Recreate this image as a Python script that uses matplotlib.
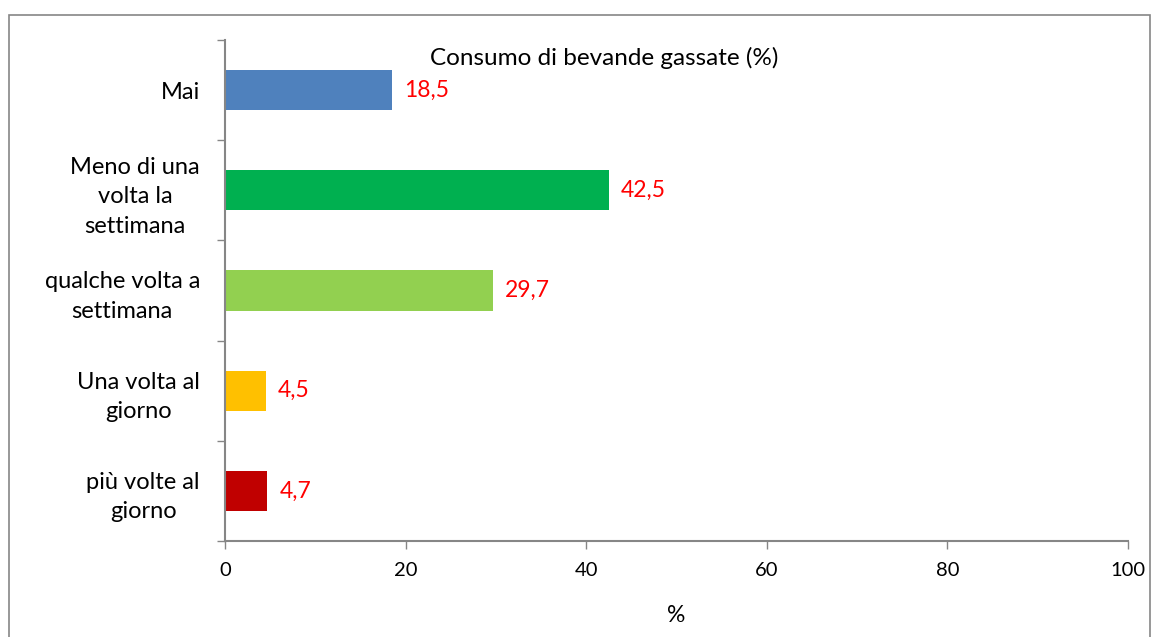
import matplotlib
matplotlib.use("Agg")
import matplotlib.pyplot as plt
from matplotlib.patches import Rectangle

categories = ["Mai", "Meno di una\nvolta la\nsettimana", "qualche volta a\nsettimana",
              "Una volta al\ngiorno", "più volte al\ngiorno"]
values = [18.5, 42.5, 29.7, 4.5, 4.7]
value_labels = ["18,5", "42,5", "29,7", "4,5", "4,7"]
colors = ["#4F81BD", "#00B050", "#92D050", "#FFC000", "#C00000"]
xticks = [0, 20, 40, 60, 80, 100]
title = "Consumo di bevande gassate (%)"
xlabel = "%"

plt.rcParams['font.family'] = ['Lato', 'DejaVu Sans']
gray = "#868686"

fig = plt.figure(figsize=(11.55, 6.37), dpi=100)
ax = fig.add_axes([225/1155, 1-541/637, (1128-225)/1155, (541-40)/637])

ypos = list(range(len(categories)))
ax.barh(ypos, values, height=0.4, color=colors)
ax.set_xlim(0, 100)
ax.set_ylim(len(categories) - 0.5, -0.5)

for y, v, lab in zip(ypos, values, value_labels):
    ax.annotate(lab, (v, y), xytext=(12, 0), textcoords="offset pixels",
                va="center", ha="left", color="red", fontsize=16.5)

ax.set_xticks(xticks)
ax.set_xticklabels([str(t) for t in xticks], fontsize=14.5)
ax.tick_params(axis="x", length=6, color=gray, width=1, pad=9)

ax.set_yticks([i - 0.5 for i in range(len(categories) + 1)])
ax.set_yticklabels([])
ax.tick_params(axis="y", which="major", length=6, color=gray, width=1)
ax.set_yticks(ypos, minor=True)
ax.set_yticklabels(categories, minor=True, fontsize=17, linespacing=1.5)
for lbl in ax.get_yticklabels(minor=True):
    lbl.set_multialignment("center")
ax.tick_params(axis="y", which="minor", length=0, pad=18)

for s in ["top", "right"]:
    ax.spines[s].set_visible(False)
for s in ["left", "bottom"]:
    ax.spines[s].set_color(gray)
    ax.spines[s].set_linewidth(1.5)

ax.text(0.42, 0.964, title, transform=ax.transAxes, ha="center", va="center", fontsize=17.5)
fig.text(676/1155, 1-615/637, xlabel, ha="center", va="center", fontsize=16.5)

frame = Rectangle((9/1155, -0.05), (1150-9)/1155, 1-15/637+0.05, transform=fig.transFigure,
                  fill=False, edgecolor=gray, linewidth=1.2, clip_on=False)
fig.patches.append(frame)

fig.savefig("out.png", dpi=100)
